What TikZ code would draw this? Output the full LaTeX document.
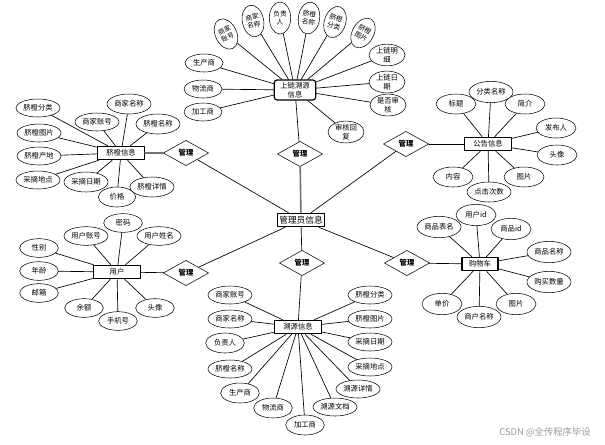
\documentclass[tikz,border=0pt]{standalone}
\usepackage{fontspec}
\newfontfamily\cjk{Noto Sans CJK SC}
\usetikzlibrary{shapes.geometric}

\tikzset{
  attr/.style={ellipse, draw, fill=white, inner sep=0pt, minimum width=33pt, minimum height=13.5pt},
  attrtwo/.style={attr, align=center, minimum width=27pt, minimum height=15pt},
  attrtall/.style={attr, align=center, minimum width=16pt, minimum height=24pt, font=\cjk\fontsize{5}{5.8}\selectfont},
  entity/.style={rectangle, draw, line width=0.9pt, fill=white, minimum width=35pt, minimum height=10pt, inner sep=1pt},
  relship/.style={diamond, draw, fill=white, minimum width=34pt, minimum height=19pt, inner sep=0pt, font=\cjk\fontsize{5.5}{6.5}\selectfont\bfseries},
  link/.style={line width=0.5pt},
  heavylink/.style={line width=1.2pt, black!55},
}

\begin{document}
\begin{tikzpicture}[x=0.75pt, y=-0.75pt, line cap=round, line join=round, font=\cjk\fontsize{5.5}{6.5}\selectfont]

  % ===== frame =====
  \useasboundingbox (0,0) rectangle (605,444);

  % ===== entities =====
  \node[entity, font=\cjk\fontsize{6.5}{7.5}\selectfont] (admin) at (301,220) {管理员信息};
  \node[entity, rounded corners=2pt, align=center, minimum width=31pt, minimum height=15pt] (chain) at (295,90) {上链溯源\\信息};
  \node[entity] (orange) at (121,153) {脐橙信息};
  \node[entity] (notice) at (488,144) {公告信息};
  \node[entity] (user) at (117,272) {用户};
  \node[entity, minimum width=27pt] (cart) at (480,264) {购物车};
  \node[entity] (trace) at (298,327) {溯源信息};

  % ===== relations =====
  \node[relship] (mT) at (300,154) {管理};
  \node[relship] (mB) at (302,263) {管理};
  \node[relship] (mLT) at (186,153) {管理};
  \node[relship] (mLB) at (186,273) {管理};
  \node[relship] (mRT) at (406,144) {管理};
  \node[relship] (mRB) at (407,263) {管理};

  \draw[heavylink] (admin) -- (mT);
  \draw[link] (admin) -- (mB);
  \draw[link] (admin) -- (mLT);
  \draw[link] (admin) -- (mLB);
  \draw[link] (admin) -- (mRT);
  \draw[link] (admin) -- (mRB);
  \draw[link] (mT) -- (chain);
  \draw[link] (mB) -- (trace);
  \draw[heavylink] (mLT) -- (orange);
  \draw[link] (mLB) -- (user);
  \draw[link] (mRT) -- (notice);
  \draw[link] (mRB) -- (cart);

  % ---- 上链溯源信息 ----
  \node[attrtall, rotate=25] (c1) at (226,34) {商家\\账号};
  \node[attrtall, rotate=12] (c2) at (253,21) {商家\\名称};
  \node[attrtall] (c3) at (280,18) {负责\\人};
  \node[attrtall, rotate=-8] (c4) at (309,18) {脐橙\\名称};
  \node[attrtall, rotate=-18] (c5) at (335,22) {脐橙\\分类};
  \node[attrtall, rotate=-30] (c6) at (363,33) {脐橙\\图片};
  \node[attr, minimum width=28.5pt] (c7) at (204,63) {生产商};
  \node[attr, minimum width=28.5pt] (c8) at (203,89) {物流商};
  \node[attr, minimum width=28.5pt] (c9) at (203,112) {加工商};
  \node[attrtwo] (c10) at (387,55) {上链明\\细};
  \node[attrtwo] (c11) at (387,82) {上链日\\期};
  \node[attrtwo] (c12) at (388,105) {是否审\\核};
  \node[attrtwo] (c13) at (346,132) {审核回\\复};
  \foreach \a in {c1,c2,c3,c4,c5,c6,c7,c8,c9,c10,c11,c12,c13}
    \draw[link] (chain) -- (\a);

  % ---- 脐橙信息 ----
  \node[attr] (o1) at (38,108) {脐橙分类};
  \node[attr] (o2) at (39,133) {脐橙图片};
  \node[attr] (o3) at (39,156) {脐橙产地};
  \node[attr] (o4) at (38,180) {采摘地点};
  \node[attr] (o5) at (97,122) {商家账号};
  \node[attr, minimum height=15pt] (o6) at (129,104) {商家名称};
  \node[attr, minimum height=15pt] (o7) at (158,124) {脐橙名称};
  \node[attr, minimum height=15pt] (o8) at (86,182) {采摘日期};
  \node[attr, minimum width=28pt, minimum height=15pt] (o9) at (117,197) {价格};
  \node[attr, minimum height=15pt] (o10) at (152,187) {脐橙详情};
  \foreach \a in {o1,o2,o3,o4,o5,o6,o7,o8,o9,o10}
    \draw[link] (orange) -- (\a);

  % ---- 公告信息 ----
  \node[attr, minimum width=30pt, minimum height=15pt] (n1) at (456,104) {标题};
  \node[attr, minimum height=16pt] (n2) at (491,92) {分类名称};
  \node[attr, minimum width=30pt, minimum height=15pt] (n3) at (525,104) {简介};
  \node[attr, minimum width=30pt, minimum height=15pt] (n4) at (556,128) {发布人};
  \node[attr, minimum width=30pt, minimum height=15pt] (n5) at (557,155) {头像};
  \node[attr, minimum width=30pt, minimum height=15pt] (n6) at (524,177) {图片};
  \node[attr, minimum height=15pt] (n7) at (489,192) {点击次数};
  \node[attr, minimum width=30pt, minimum height=15pt] (n8) at (453,177) {内容};
  \foreach \a in {n1,n2,n3,n4,n5,n6,n7,n8}
    \draw[link] (notice) -- (\a);

  % ---- 用户 ----
  \node[attr, minimum width=29pt, minimum height=14pt] (u1) at (123,223) {密码};
  \node[attr, minimum height=14pt] (u2) at (86,236) {用户账号};
  \node[attr, minimum height=14pt] (u3) at (159,236) {用户姓名};
  \node[attr, minimum width=29pt, minimum height=14pt] (u4) at (39,248) {性别};
  \node[attr, minimum width=29pt, minimum height=14pt] (u5) at (39,271) {年龄};
  \node[attr, minimum width=29pt, minimum height=14pt] (u6) at (39,293) {邮箱};
  \node[attr, minimum width=29pt, minimum height=14pt] (u7) at (84,308) {余额};
  \node[attr, minimum width=29pt, minimum height=14pt] (u8) at (118,321) {手机号};
  \node[attr, minimum width=29pt, minimum height=14pt] (u9) at (155,308) {头像};
  \foreach \a in {u1,u2,u3,u4,u5,u6,u7,u8,u9}
    \draw[link] (user) -- (\a);

  % ---- 购物车 ----
  \node[attr, minimum width=30pt, minimum height=16pt] (s1) at (476,215) {用户id};
  \node[attr, minimum height=16pt] (s2) at (439,227) {商品表名};
  \node[attr, minimum width=30pt, minimum height=16pt] (s3) at (511,229) {商品id};
  \node[attr, minimum height=16pt] (s4) at (549,252) {商品名称};
  \node[attr, minimum height=16pt] (s5) at (549,282) {购买数量};
  \node[attr, minimum width=30pt, minimum height=16pt] (s6) at (516,304) {图片};
  \node[attr, minimum height=16pt] (s7) at (479,317) {商户名称};
  \node[attr, minimum width=30pt, minimum height=16pt] (s8) at (442,304) {单价};
  \foreach \a in {s1,s2,s3,s4,s5,s6,s7,s8}
    \draw[link] (cart) -- (\a);

  % ---- 溯源信息 ----
  \node[attr] (r1) at (230,295) {商家账号};
  \node[attr] (r2) at (230,319) {商家名称};
  \node[attr, minimum width=29pt, minimum height=15pt] (r3) at (225,343) {负责人};
  \node[attr] (r4) at (230,369) {脐橙名称};
  \node[attr, minimum width=29pt, minimum height=15pt] (r5) at (240,393) {生产商};
  \node[attr, minimum width=29pt, minimum height=15pt] (r6) at (273,408) {物流商};
  \node[attr, minimum width=29pt, minimum height=15pt] (r7) at (305,425) {加工商};
  \node[attr] (r8) at (335,407) {溯源文档};
  \node[attr] (r9) at (358,389) {溯源详情};
  \node[attr] (r10) at (370,367) {采摘地点};
  \node[attr] (r11) at (370,342) {采摘日期};
  \node[attr] (r12) at (370,319) {脐橙图片};
  \node[attr] (r13) at (370,295) {脐橙分类};
  \foreach \a in {r1,r2,r3,r4,r5,r6,r7,r8,r9,r10,r11,r12,r13}
    \draw[link] (trace) -- (\a);

  % ---- watermark ----
  \node[black!40, font=\cjk\fontsize{7}{8}\selectfont] (mark) at (545,432) {CSDN @全传程序毕设};

\end{tikzpicture}
\end{document}
